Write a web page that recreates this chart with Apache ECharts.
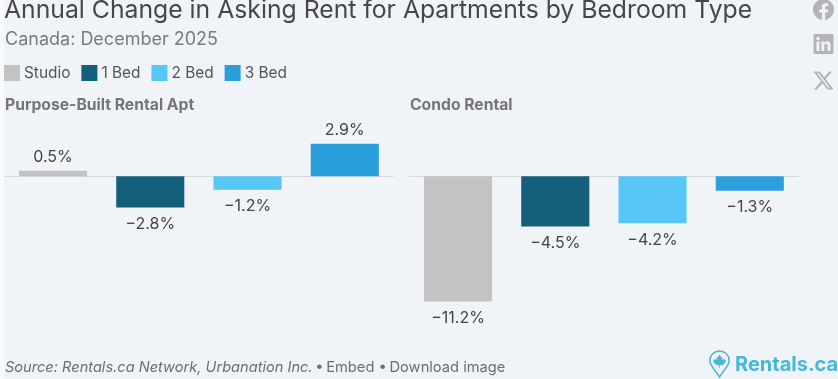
<!DOCTYPE html>
<html>
<head>
<meta charset="utf-8">
<script src="https://cdn.jsdelivr.net/npm/echarts@6/dist/echarts.min.js"></script>
<style>
  html, body { margin: 0; padding: 0; background: #f0f3f8; }
  #main { width: 838px; height: 379px; }
</style>
</head>
<body>
<div id="main"></div>
<script>
const bedTypes = ['Studio', '1 Bed', '2 Bed', '3 Bed'];
const bedColors = ['#c3c3c3', '#14607c', '#57c7f7', '#2a9fdb'];
const purposeBuilt = [0.5, -2.8, -1.2, 2.9];
const condo = [-11.2, -4.5, -4.2, -1.3];

const fontFamily = 'Inter, sans-serif';

const fbPath = 'M24 12.073c0-6.627-5.373-12-12-12s-12 5.373-12 12c0 5.99 4.388 10.954 10.125 11.854v-8.385H7.078v-3.47h3.047V9.43c0-3.007 1.792-4.669 4.533-4.669 1.312 0 2.686.235 2.686.235v2.953H15.83c-1.491 0-1.956.925-1.956 1.874v2.25h3.328l-.532 3.47h-2.796v8.385C19.612 23.027 24 18.062 24 12.073z';
const inPath = 'M20.447 20.452h-3.554v-5.569c0-1.328-.027-3.037-1.852-3.037-1.853 0-2.136 1.445-2.136 2.939v5.667H9.351V9h3.414v1.561h.046c.477-.9 1.637-1.85 3.37-1.85 3.601 0 4.267 2.37 4.267 5.455v6.286zM5.337 7.433c-1.144 0-2.063-.926-2.063-2.065 0-1.138.92-2.063 2.063-2.063 1.14 0 2.064.925 2.064 2.063 0 1.139-.925 2.065-2.064 2.065zm1.782 13.019H3.555V9h3.564v11.452zM22.225 0H1.771C.792 0 0 .774 0 1.729v20.542C0 23.227.792 24 1.771 24h20.451C23.2 24 24 23.227 24 22.271V1.729C24 .774 23.2 0 22.222 0h.003z';
const xPath = 'M18.244 2.25h3.308l-7.227 8.26 8.502 11.24H16.17l-5.214-6.817L4.99 21.75H1.68l7.73-8.835L1.254 2.25H8.08l4.713 6.231zm-1.161 17.52h1.833L7.084 4.126H5.117z';
const pinPath = 'M719.5 377 C716 371 709.8 366 709.8 360.6 C709.8 355.2 714.1 351 719.5 351 C724.9 351 729.2 355.2 729.2 360.6 C729.2 366 723 371 719.5 377 Z';
const leafPath = 'M719.5 354.5 L721 357.3 L722.4 356.6 L722 360 L723.6 358.6 L724.2 359.8 L726 359.5 L725.3 361.5 L726 362 L723 364.4 L723.3 365.4 L720 365 L720 367.5 L719 367.5 L719 365 L715.7 365.4 L716 364.4 L713 362 L713.7 361.5 L713 359.5 L714.8 359.8 L715.4 358.6 L717 360 L716.6 356.6 L718 357.3 Z';

function fmt(v) {
  return (v < 0 ? '\u2212' : '') + Math.abs(v).toFixed(1) + '%';
}

// one series per bedroom type so the legend gets all four, stacked to keep bars centred
function panelSeries(values, axisIndex) {
  return bedTypes.map((name, i) => ({
    name: name,
    type: 'bar',
    xAxisIndex: axisIndex,
    yAxisIndex: axisIndex,
    stack: 'panel' + axisIndex,
    barWidth: '70%',
    itemStyle: { color: bedColors[i] },
    data: bedTypes.map((t, j) => {
      if (j !== i) return null;
      return {
        value: values[i],
        label: {
          show: true,
          position: values[i] < 0 ? 'bottom' : 'top',
          distance: values[i] < 0 ? 8.5 : 5.5,
          formatter: () => fmt(values[i]),
          color: '#444444',
          fontFamily: fontFamily,
          fontSize: 16
        }
      };
    })
  }));
}

// icons and the logo pin, graphic component has no plain path type
function iconPath(pathData, x, y, size) {
  return {
    type: 'path',
    shape: { pathData: pathData, x: x, y: y, width: size, height: size, layout: 'center' },
    style: { fill: '#b4b4b4' }
  };
}
const iconSeries = {
  type: 'custom',
  coordinateSystem: 'none',
  silent: true,
  data: [0],
  renderItem: () => ({
    type: 'group',
    children: [
      iconPath(fbPath, 813, -1, 21),
      iconPath(inPath, 813.5, 34, 20),
      iconPath(xPath, 813.5, 70.5, 20),
      { type: 'path', shape: { pathData: pinPath, x: 709.8, y: 351, width: 19.4, height: 26 }, style: { fill: 'none', stroke: '#45b8d8', lineWidth: 1.5 } },
      { type: 'path', shape: { pathData: leafPath, x: 713, y: 354.5, width: 13, height: 13 }, style: { fill: '#45b8d8' } }
    ]
  })
};

const chart = echarts.init(document.getElementById('main'));
chart.setOption({
  animation: false,
  backgroundColor: '#f0f3f8',
  textStyle: { fontFamily: fontFamily },
  title: [
    {
      text: 'Annual Change in Asking Rent for Apartments by Bedroom Type',
      left: 4, top: -2, padding: 0,
      textStyle: { fontFamily: fontFamily, fontSize: 24.75, fontWeight: 400, color: '#474747' }
    },
    {
      text: 'Canada: December 2025',
      left: 5, top: 30.5, padding: 0,
      textStyle: { fontFamily: fontFamily, fontSize: 18, fontWeight: 400, color: '#7b7b7b' }
    },
    {
      text: 'Purpose-Built Rental Apt',
      left: 5, top: 97, padding: 0,
      textStyle: { fontFamily: fontFamily, fontSize: 15.7, fontWeight: 700, color: '#757575' }
    },
    {
      text: 'Condo Rental',
      left: 410, top: 97, padding: 0,
      textStyle: { fontFamily: fontFamily, fontSize: 15.7, fontWeight: 700, color: '#757575' }
    },
    {
      text: '{a|Source: Rentals.ca Network, Urbanation Inc.}{b|\u2009\u2022\u2009Embed \u2022\u2009Download image}',
      left: 5, top: 360, padding: 0,
      textStyle: {
        rich: {
          a: { fontFamily: fontFamily, fontSize: 14.6, fontWeight: 400, fontStyle: 'italic', color: '#6e6e6e' },
          b: { fontFamily: fontFamily, fontSize: 14.7, fontWeight: 400, color: '#6e6e6e' }
        }
      }
    }
  ],
  legend: {
    data: bedTypes,
    left: 4, top: 65, padding: 0,
    icon: 'rect',
    itemWidth: 16, itemHeight: 16, itemGap: 11,
    textStyle: { fontFamily: fontFamily, fontSize: 15.4, color: '#555555', padding: [1, 0, 0, -1] }
  },
  grid: [
    { left: 4.4, width: 389, top: 131.5, height: 179 },
    { left: 409.4, width: 389, top: 131.5, height: 179 }
  ],
  xAxis: [0, 1].map(i => ({
    type: 'category',
    gridIndex: i,
    data: bedTypes,
    axisLine: { lineStyle: { color: '#d9d9d9', width: 1 } },
    axisTick: { show: false },
    axisLabel: { show: false }
  })),
  yAxis: [0, 1].map(i => ({
    type: 'value',
    gridIndex: i,
    min: -12,
    max: 4,
    show: false,
    splitLine: { show: false }
  })),
  series: panelSeries(purposeBuilt, 0).concat(panelSeries(condo, 1), [iconSeries]),
  graphic: [
    { type: 'rect', silent: true, z: -1, shape: { x: 0, y: 0, width: 4, height: 379 }, style: { fill: '#f8f9fc' } },
    {
      type: 'text', x: 735, y: 355,
      style: { text: 'Rentals.ca', fontFamily: fontFamily, fontSize: 20, fontWeight: 700, fill: '#45b8d8' }
    }
  ]
});
</script>
</body>
</html>
